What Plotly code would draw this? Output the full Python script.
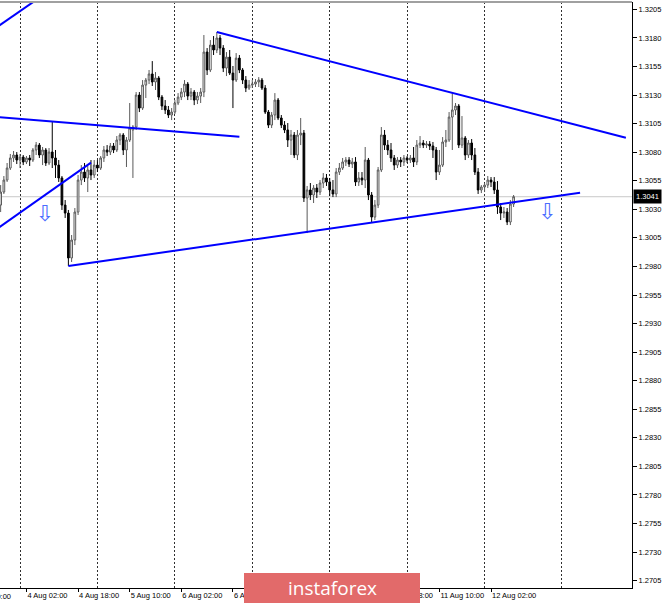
import plotly.graph_objects as go

# ---- data (H1 bars; bar index 0 = 4 Aug 00:00) ----
bars = list(range(-6, 154))

opens = [
    1.30337, 1.30451, 1.30556, 1.30661, 1.30749, 1.30775,
    1.30731, 1.30757, 1.30714, 1.30749, 1.30731, 1.30819, 1.30862, 1.30775, 1.30819, 1.30705,
    1.30801, 1.30749, 1.30687, 1.30574, 1.30337, 1.30267, 1.29874, 1.30031, 1.30276, 1.30556,
    1.30626, 1.30574, 1.30644, 1.30600, 1.30687, 1.30661, 1.30749, 1.30819, 1.30801, 1.30854,
    1.30819, 1.30906, 1.30950, 1.30819, 1.30906, 1.30994, 1.31020, 1.31300, 1.31186, 1.31387,
    1.31431, 1.31484, 1.31414, 1.31449, 1.31282, 1.31204, 1.31169, 1.31125, 1.31151, 1.31230,
    1.31282, 1.31326, 1.31396, 1.31291, 1.31326, 1.31256, 1.31291, 1.31326, 1.31676, 1.31519,
    1.31737, 1.31694, 1.31799, 1.31711, 1.31536, 1.31632, 1.31492, 1.31431, 1.31623, 1.31519,
    1.31431, 1.31361, 1.31387, 1.31396, 1.31414, 1.31431, 1.31361, 1.31151, 1.31037, 1.31125,
    1.31256, 1.31099, 1.31037, 1.30994, 1.30906, 1.30950, 1.30775, 1.30950, 1.30967, 1.30399,
    1.30469, 1.30425, 1.30486, 1.30451, 1.30530, 1.30574, 1.30539, 1.30469, 1.30434, 1.30626,
    1.30661, 1.30714, 1.30731, 1.30696, 1.30714, 1.30539, 1.30574, 1.30556, 1.30731, 1.30425,
    1.30232, 1.30337, 1.30644, 1.30950, 1.30862, 1.30819, 1.30749, 1.30687, 1.30731, 1.30714,
    1.30749, 1.30731, 1.30749, 1.30714, 1.30862, 1.30880, 1.30862, 1.30871, 1.30854, 1.30819,
    1.30626, 1.30687, 1.30889, 1.30906, 1.31107, 1.31169, 1.31204, 1.30862, 1.30924, 1.30775,
    1.30880, 1.30775, 1.30626, 1.30469, 1.30495, 1.30512, 1.30556, 1.30539, 1.30469, 1.30320,
    1.30267, 1.30276, 1.30189, 1.30346,
]
highs = [
    1.30512, 1.30591, 1.30705, 1.30784, 1.30810, 1.30801,
    1.30784, 1.30775, 1.30766, 1.30775, 1.30836, 1.30889, 1.30880, 1.30845, 1.30836, 1.30836,
    1.31064, 1.30819, 1.30731, 1.30591, 1.30381, 1.30294, 1.30075, 1.30311, 1.30600, 1.30687,
    1.30705, 1.30679, 1.30731, 1.30731, 1.30731, 1.30766, 1.30854, 1.30862, 1.30880, 1.30880,
    1.30941, 1.30967, 1.30967, 1.30932, 1.31230, 1.31037, 1.31326, 1.31326, 1.31431, 1.31449,
    1.31519, 1.31597, 1.31501, 1.31466, 1.31300, 1.31256, 1.31204, 1.31186, 1.31256, 1.31317,
    1.31361, 1.31431, 1.31414, 1.31361, 1.31344, 1.31326, 1.31361, 1.31825, 1.31711, 1.31781,
    1.31816, 1.31851, 1.31825, 1.31737, 1.31676, 1.31694, 1.31554, 1.31667, 1.31650, 1.31536,
    1.31466, 1.31431, 1.31431, 1.31440, 1.31457, 1.31449, 1.31387, 1.31169, 1.31151, 1.31317,
    1.31274, 1.31125, 1.31072, 1.31055, 1.30994, 1.30976, 1.30994, 1.31099, 1.30994, 1.30504,
    1.30530, 1.30512, 1.30521, 1.30556, 1.30617, 1.30609, 1.30574, 1.30556, 1.30661, 1.30705,
    1.30749, 1.30757, 1.30757, 1.30749, 1.30757, 1.30626, 1.30626, 1.30845, 1.30749, 1.30451,
    1.30381, 1.30670, 1.31020, 1.30994, 1.30906, 1.30880, 1.30775, 1.30757, 1.30757, 1.30775,
    1.30766, 1.30775, 1.30845, 1.30906, 1.30941, 1.30906, 1.30897, 1.30897, 1.30889, 1.30845,
    1.30819, 1.30932, 1.30994, 1.31151, 1.31317, 1.31230, 1.31221, 1.31116, 1.30941, 1.30906,
    1.30915, 1.30836, 1.30661, 1.30512, 1.30530, 1.30591, 1.30582, 1.30582, 1.30547, 1.30355,
    1.30320, 1.30311, 1.30381, 1.30425,
]
lows = [
    1.30276, 1.30434, 1.30539, 1.30644, 1.30714, 1.30696,
    1.30661, 1.30687, 1.30696, 1.30679, 1.30714, 1.30775, 1.30749, 1.30687, 1.30679, 1.30687,
    1.30661, 1.30574, 1.30539, 1.30294, 1.30224, 1.29804, 1.29839, 1.29987, 1.30250, 1.30512,
    1.30539, 1.30451, 1.30556, 1.30574, 1.30626, 1.30644, 1.30714, 1.30766, 1.30775, 1.30792,
    1.30801, 1.30862, 1.30775, 1.30670, 1.30889, 1.30574, 1.30994, 1.31151, 1.31169, 1.31274,
    1.31396, 1.31379, 1.31344, 1.31256, 1.31169, 1.31134, 1.31099, 1.31081, 1.31134, 1.31212,
    1.31256, 1.31282, 1.31256, 1.31256, 1.31212, 1.31221, 1.31230, 1.31282, 1.31475, 1.31501,
    1.31650, 1.31667, 1.31650, 1.31501, 1.31466, 1.31475, 1.31186, 1.31414, 1.31492, 1.31396,
    1.31326, 1.31344, 1.31361, 1.31370, 1.31370, 1.31344, 1.31134, 1.31011, 1.31011, 1.31081,
    1.31081, 1.31011, 1.30967, 1.30845, 1.30775, 1.30749, 1.30731, 1.30862, 1.30364, 1.30092,
    1.30381, 1.30355, 1.30399, 1.30425, 1.30486, 1.30504, 1.30416, 1.30407, 1.30407, 1.30600,
    1.30644, 1.30679, 1.30670, 1.30661, 1.30504, 1.30504, 1.30512, 1.30486, 1.30381, 1.30189,
    1.30206, 1.30311, 1.30626, 1.30819, 1.30775, 1.30714, 1.30644, 1.30661, 1.30670, 1.30679,
    1.30705, 1.30705, 1.30670, 1.30687, 1.30836, 1.30836, 1.30836, 1.30819, 1.30749, 1.30556,
    1.30600, 1.30670, 1.30845, 1.30889, 1.30819, 1.31125, 1.30836, 1.30836, 1.30731, 1.30749,
    1.30731, 1.30600, 1.30434, 1.30442, 1.30451, 1.30486, 1.30495, 1.30434, 1.30259, 1.30206,
    1.30224, 1.30162, 1.30162, 1.30320,
]
closes = [
    1.30451, 1.30556, 1.30661, 1.30749, 1.30775, 1.30731,
    1.30757, 1.30714, 1.30749, 1.30731, 1.30819, 1.30862, 1.30775, 1.30819, 1.30705, 1.30801,
    1.30749, 1.30687, 1.30574, 1.30337, 1.30267, 1.29874, 1.30031, 1.30276, 1.30556, 1.30626,
    1.30574, 1.30644, 1.30600, 1.30687, 1.30661, 1.30749, 1.30819, 1.30801, 1.30854, 1.30819,
    1.30906, 1.30950, 1.30819, 1.30906, 1.31011, 1.31020, 1.31300, 1.31186, 1.31387, 1.31431,
    1.31484, 1.31414, 1.31449, 1.31282, 1.31204, 1.31169, 1.31125, 1.31151, 1.31230, 1.31282,
    1.31326, 1.31396, 1.31291, 1.31326, 1.31256, 1.31291, 1.31326, 1.31676, 1.31519, 1.31737,
    1.31694, 1.31799, 1.31711, 1.31536, 1.31632, 1.31492, 1.31431, 1.31623, 1.31519, 1.31431,
    1.31361, 1.31387, 1.31396, 1.31414, 1.31431, 1.31361, 1.31151, 1.31037, 1.31125, 1.31256,
    1.31099, 1.31037, 1.30994, 1.30906, 1.30950, 1.30775, 1.30950, 1.30967, 1.30399, 1.30469,
    1.30425, 1.30486, 1.30451, 1.30530, 1.30574, 1.30539, 1.30469, 1.30434, 1.30626, 1.30661,
    1.30714, 1.30731, 1.30696, 1.30714, 1.30539, 1.30574, 1.30556, 1.30731, 1.30425, 1.30232,
    1.30337, 1.30644, 1.30950, 1.30862, 1.30819, 1.30749, 1.30687, 1.30731, 1.30714, 1.30749,
    1.30731, 1.30749, 1.30714, 1.30862, 1.30880, 1.30862, 1.30871, 1.30854, 1.30819, 1.30626,
    1.30687, 1.30889, 1.30906, 1.31107, 1.31169, 1.31204, 1.30862, 1.30924, 1.30775, 1.30880,
    1.30775, 1.30626, 1.30469, 1.30495, 1.30512, 1.30556, 1.30539, 1.30469, 1.30320, 1.30267,
    1.30276, 1.30189, 1.30346, 1.30410,
]

# trend lines: (bar index, price) end points
trend_lines = [
    ([-10, 6], [1.31839, 1.32151]),
    ([-10, 68], [1.31114, 1.30935]),
    ([-10, 22], [1.30072, 1.30708]),
    ([15, 173.6], [1.29804, 1.30445]),
    ([61, 187.8], [1.31851, 1.30926]),
]
arrow_bars = [7.7, 163.4]
arrow_prices = [1.30250, 1.30259]

current_price = 1.3041

x_tick_bars = [2, 18, 34, 50, 66, 82, 98, 114, 130, 146]
x_tick_text = ["4 Aug 02:00", "4 Aug 18:00", "5 Aug 10:00", "6 Aug 02:00",
               "6 Aug 18:00", "7 Aug 10:00", "10 Aug 02:00", "10 Aug 18:00",
               "11 Aug 10:00", "12 Aug 02:00"]
cut_label_bar = -14
cut_label_text = "3 Aug 10:00"
day_bars = [0, 24, 48, 72, 96, 120, 144, 168]
price_ticks = [1.2705, 1.2730, 1.2755, 1.2780, 1.2805, 1.2830, 1.2855, 1.2880,
               1.2905, 1.2930, 1.2955, 1.2980, 1.3005, 1.3030, 1.3055, 1.3080,
               1.3105, 1.3130, 1.3155, 1.3180, 1.3205]

X_RANGE = [-6.2, 189.7]
Y_RANGE = [1.26986, 1.32114]
FONT = "Liberation Sans"
FS = 7.5

fig = go.Figure()

fig.add_shape(type="line", xref="paper", x0=0, x1=1, yref="y",
              y0=current_price, y1=current_price,
              line=dict(color="#c8c8c8", width=1), layer="below")

fig.add_trace(go.Candlestick(
    x=bars, open=opens, high=highs, low=lows, close=closes,
    increasing=dict(line=dict(color="#5a5a5a", width=1), fillcolor="white"),
    decreasing=dict(line=dict(color="black", width=1), fillcolor="black"),
    whiskerwidth=0, showlegend=False, hoverinfo="skip",
))

for xs, ys in trend_lines:
    fig.add_trace(go.Scatter(x=xs, y=ys, mode="lines",
                             line=dict(color="#0000ff", width=2),
                             showlegend=False, hoverinfo="skip"))

fig.add_trace(go.Scatter(x=arrow_bars, y=arrow_prices, mode="text",
                         text=["\u21e9"] * len(arrow_bars),
                         textfont=dict(family="DejaVu Sans", size=22, color="#4a6cff"),
                         showlegend=False, hoverinfo="skip"))

# top border
fig.add_shape(type="line", xref="paper", yref="paper", x0=0, x1=1, y0=1, y1=1,
              line=dict(color="#a0a0a0", width=2), layer="above")

# current price label
fig.add_annotation(xref="paper", x=1, xanchor="left", yref="y", y=current_price,
                   text=f"{current_price:.4f}", showarrow=False,
                   font=dict(family=FONT, size=FS, color="white"),
                   bgcolor="black", borderpad=2, xshift=1)

# cut-off time label at left edge
fig.add_annotation(xref="paper", x=(cut_label_bar - X_RANGE[0]) / (X_RANGE[1] - X_RANGE[0]),
                   xanchor="left", xshift=-6, yref="paper", y=0, yanchor="top", yshift=-2,
                   text=cut_label_text, showarrow=False,
                   font=dict(family=FONT, size=FS, color="black"))

# watermark
fig.add_shape(type="rect", xref="paper", yref="paper",
              x0=244 / 632, x1=420 / 632, y0=-15 / 586, y1=15 / 586,
              fillcolor="#e26a6a", line=dict(width=0), layer="above")
fig.add_annotation(xref="paper", yref="paper", x=332 / 632, y=0, yanchor="middle",
                   yshift=0, text="instaforex", showarrow=False,
                   font=dict(family="Open Sans", size=19, color="white"))

fig.update_layout(
    width=665, height=604,
    margin=dict(l=0, r=33, t=2, b=16, autoexpand=False),
    paper_bgcolor="white", plot_bgcolor="white",
    showlegend=False, boxgap=0.25,
    xaxis=dict(
        range=X_RANGE, rangeslider=dict(visible=False),
        tickmode="array", tickvals=x_tick_bars, ticktext=x_tick_text,
        ticklabelposition="outside right", tickangle=0,
        ticks="outside", ticklen=3, tickcolor="black",
        tickfont=dict(family=FONT, size=FS, color="black"),
        showgrid=False, zeroline=False, automargin=False,
        showline=True, linecolor="black", linewidth=1,
        minor=dict(tickmode="array", tickvals=day_bars, showgrid=True,
                   griddash="2px,2px", gridcolor="#303030", gridwidth=1, ticks=""),
    ),
    yaxis=dict(
        side="right", range=Y_RANGE, automargin=False,
        tickmode="array", tickvals=price_ticks, tickformat=".4f",
        ticks="outside", ticklen=4, tickcolor="black",
        tickfont=dict(family=FONT, size=FS, color="black"),
        showgrid=False, zeroline=False,
        showline=True, linecolor="black", linewidth=1,
    ),
)

fig.write_html("out.html", config={"displayModeBar": False},
               post_script="document.body.style.margin='0';document.body.style.overflow='hidden';")
